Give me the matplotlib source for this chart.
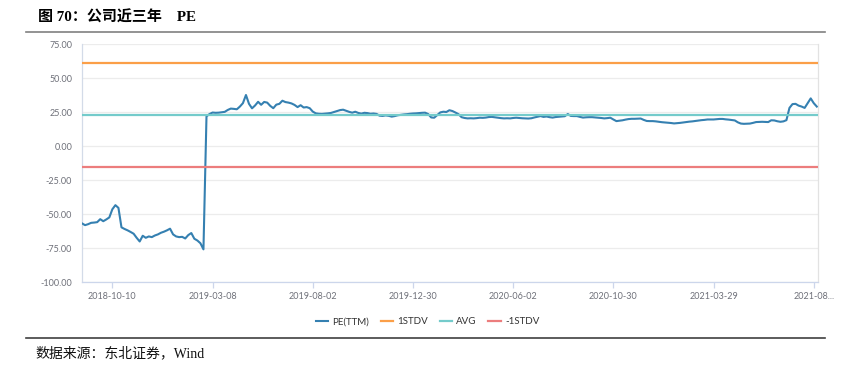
import matplotlib.pyplot as plt
import numpy as np

# PE(TTM) series (category axis of trading days)
pe = [
    -56.9, -58.2, -57.5, -56.5, -56.3, -56.0, -53.8, -55.3, -54.0, -52.5,
    -46.5, -43.5, -45.5, -59.8, -61.0, -62.0, -63.2, -64.5, -67.5, -70.2,
    -66.0, -67.5, -66.5, -67.0, -65.8, -65.0, -63.8, -63.0, -62.0, -60.8,
    -65.0, -66.5, -67.0, -66.8, -68.0, -65.5, -64.0, -68.2, -69.5, -71.5,
    -76.0, 21.8, 23.5, 24.6, 24.4, 24.5, 24.8, 25.1, 26.5, 27.5,
    27.3, 27.0, 29.0, 31.5, 37.5, 31.0, 27.7, 29.8, 32.5, 30.3,
    32.4, 31.9, 29.5, 27.8, 30.4, 31.0, 33.3, 32.3, 31.9, 31.3,
    30.2, 28.6, 30.0, 28.3, 28.6, 27.8, 25.3, 24.0, 23.7, 23.6,
    23.8, 24.0, 24.3, 25.0, 25.7, 26.4, 26.7, 25.9, 25.1, 24.5,
    25.2, 24.3, 23.8, 24.4, 24.2, 23.7, 23.9, 23.6, 22.3, 22.1,
    22.5, 22.2, 21.6, 22.0, 22.6, 22.9, 23.2, 23.4, 23.7, 23.9,
    24.0, 24.2, 24.4, 24.5, 23.5, 21.0, 20.8, 22.8, 24.7, 25.2,
    25.0, 26.3, 25.7, 24.6, 23.4, 21.2, 20.6, 20.3, 20.4, 20.3,
    20.5, 20.8, 20.7, 20.9, 21.3, 21.4, 21.1, 20.8, 20.5, 20.3,
    20.4, 20.3, 20.6, 20.8, 20.6, 20.4, 20.3, 20.2, 20.4, 21.0,
    21.5, 22.0, 21.4, 21.7, 21.2, 20.9, 21.3, 21.5, 21.7, 21.9,
    23.5, 22.1, 22.0, 22.0, 21.4, 20.9, 21.1, 21.2, 21.2, 21.0,
    20.8, 20.6, 20.3, 20.5, 20.8, 19.5, 18.3, 18.6, 18.9, 19.4,
    19.8, 20.0, 20.0, 20.1, 20.2, 19.2, 18.4, 18.3, 18.3, 18.1,
    17.8, 17.5, 17.3, 17.1, 16.9, 16.6, 16.8, 17.0, 17.3, 17.6,
    17.9, 18.1, 18.4, 18.7, 19.0, 19.2, 19.5, 19.5, 19.5, 19.7,
    19.9, 19.9, 19.6, 19.4, 19.1, 18.8, 17.4, 16.5, 16.3, 16.4,
    16.5, 17.0, 17.6, 17.7, 17.8, 17.7, 17.6, 18.9, 18.8, 18.2,
    17.8, 18.1, 19.0, 28.0, 30.8, 31.0, 29.7, 29.0, 28.0, 31.5,
    35.0, 31.5, 29.0,
]
stdv_up = 60.9
avg = 22.5
stdv_down = -15.7

tick_idx = [10, 43, 76, 109, 142, 175, 208, 241]
tick_labels = ['2018-10-10', '2019-03-08', '2019-08-02', '2019-12-30',
               '2020-06-02', '2020-10-30', '2021-03-29', '2021-08...']
y_ticks = [75, 50, 25, 0, -25, -50, -75, -100]

cjk = ['Liberation Serif', 'Noto Sans CJK SC']
plt.rcParams['font.family'] = ['Lato', 'DejaVu Sans']

fig = plt.figure(figsize=(8.45, 3.69), dpi=100)
ax = fig.add_axes([82 / 845, 1 - 282 / 369, 736 / 845, 238 / 369])

x = np.arange(len(pe))
n = len(pe)
ax.plot(x, pe, color='#3580b1', lw=1.5, label='PE(TTM)', zorder=3)
ax.plot([0, n - 1], [stdv_up] * 2, color='#fb9f48', lw=1.6, label='1STDV', zorder=4)
ax.plot([0, n - 1], [avg] * 2, color='#74cbcb', lw=1.6, label='AVG', zorder=4)
ax.plot([0, n - 1], [stdv_down] * 2, color='#ec7d7d', lw=1.6, label='-1STDV', zorder=4)

ax.set_xlim(0, n - 1 + 0.4)
ax.set_ylim(-100, 75)
ax.set_yticks(y_ticks)
ax.set_yticklabels([f'{v:.2f}' for v in y_ticks])
ax.set_xticks(tick_idx)
ax.set_xticklabels(tick_labels)

ax.grid(axis='y', color='#ececec', lw=0.9)
ax.set_axisbelow(True)
ax.spines['top'].set_visible(False)
ax.spines['left'].set_color('#d3dbe8')
ax.spines['bottom'].set_color('#ccd6eb')
ax.spines['right'].set_color('#e2e2e2')
for s in ax.spines.values():
    s.set_linewidth(0.9)

ax.tick_params(axis='y', length=0, pad=7, labelsize=6.5, labelcolor='#6e7079')
ax.tick_params(axis='x', length=4, width=0.9, color='#ccd6eb', pad=3.5,
               labelsize=6.5, labelcolor='#6e7079')

fig.legend(loc='center', bbox_to_anchor=(0.506, 1 - 322 / 369), ncol=4,
           frameon=False, fontsize=7, handlelength=1.25, handletextpad=0.45,
           columnspacing=1.2, labelcolor='#333333')

# title, rules and source note
fig.text(38 / 845, 1 - 18 / 369, '图 70：公司近三年\u3000PE', family=cjk,
         fontsize=10.8, fontweight='bold', va='center', ha='left')
fig.add_artist(plt.Line2D([26 / 845, 825 / 845], [1 - 32.3 / 369] * 2,
                          color='#808080', lw=1.2))
fig.add_artist(plt.Line2D([26 / 845, 825 / 845], [1 - 337.5 / 369] * 2,
                          color='#404040', lw=1.2))
fig.text(35 / 845, 1 - 353 / 369, '数据来源：东北证券，Wind', family=cjk,
         fontsize=10, va='center', ha='left', color='#111111')

fig.savefig('out.png', dpi=100)
